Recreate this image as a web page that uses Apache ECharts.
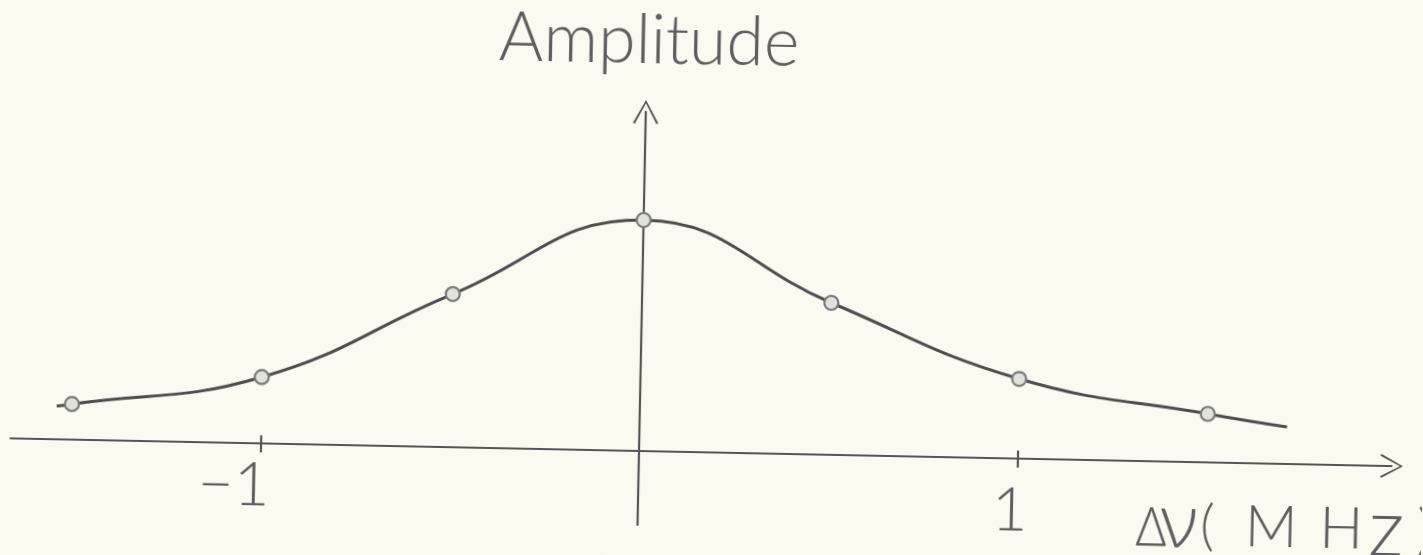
<!DOCTYPE html>
<html>
<head>
<meta charset="utf-8">
<script src="https://cdn.jsdelivr.net/npm/echarts@6/dist/echarts.min.js"></script>
<style>
  html, body { margin: 0; padding: 0; background: #fbfaf1; overflow: hidden; }
  #chart {
    position: absolute; left: 0; top: 0;
    width: 1423px; height: 555px;
    /* the hand-drawn sheet sits slightly askew */
    transform: rotate(1.15deg);
    transform-origin: 639px 451px;
  }
</style>
</head>
<body>
<div id="chart"></div>
<script>
// Frequency offset of each measurement (MHz)
const freq = [-1.5, -1, -0.5, 0, 0.5, 1, 1.5];
// Measured amplitude (arbitrary units, peak = 1)
const amp = [0.154, 0.287, 0.663, 1.0, 0.658, 0.345, 0.210];
// Where the hand-drawn curve starts and ends beyond the outer measurements
const curveStart = [-1.54, 0.144];
const curveEnd = [1.71, 0.160];
// Labelled ticks on the frequency axis
const xTickValues = [-1, 1];
const xTickLabels = ['−1', '1'];

const points = freq.map((f, i) => [f, amp[i]]);
const curve = [curveStart, ...points, curveEnd];

const ink = '#555555';
const textInk = '#5e5e5e';
const font = 'Lato, Roboto, "DejaVu Sans", sans-serif';
const greekFont = '"Open Sans", "Noto Sans", "DejaVu Sans", sans-serif';
// open chevron arrow head, pointing up
const chevron = 'path://M0,0 L-10,18 L-8.6,19 L0,2.6 L8.6,19 L10,18 Z';

// hand-lettered axis unit: each glyph centred in a narrow slot, spacers between
const glyph = (size, family, extra) => Object.assign({
  fontFamily: family || font, fontWeight: 300, fontSize: size,
  color: textInk, lineHeight: 64, width: 20, align: 'center'
}, extra || {});
const spacer = w => ({ fontFamily: font, fontSize: 20, lineHeight: 64, width: w });

const chart = echarts.init(document.getElementById('chart'), null, { renderer: 'canvas' });

chart.setOption({
  backgroundColor: '#fbfaf1',
  animation: false,
  title: {
    text: 'Amplitude',
    left: 636,
    top: 2,
    textAlign: 'center',
    textStyle: { fontFamily: font, fontWeight: 300, fontSize: 68, color: textInk }
  },
  grid: {
    left: 10.5, right: 31.3, top: 111.9, bottom: 30.1,
    containLabel: false,
    outerBoundsMode: 'none'
  },
  xAxis: {
    type: 'value',
    min: -1.66, max: 1.988,
    splitLine: { show: false },
    axisLine: {
      onZero: true,
      symbol: ['none', chevron],
      symbolSize: [24, 24],
      lineStyle: { color: ink, width: 2.2 }
    },
    axisTick: {
      show: true, inside: false, length: 9,
      customValues: xTickValues,
      lineStyle: { color: ink, width: 2.2 }
    },
    axisLabel: {
      show: true,
      customValues: xTickValues,
      margin: -63,
      formatter: v => v < 0
        ? '{tN|' + xTickLabels[xTickValues.indexOf(v)] + '}{gapN|\u00a0}'
        : '{tP|' + xTickLabels[xTickValues.indexOf(v)] + '}{gapP|\u00a0}',
      rich: {
        tN: { fontFamily: font, fontWeight: 300, fontSize: 62, color: textInk },
        tP: { fontFamily: font, fontWeight: 300, fontSize: 62, color: textInk, padding: [10, 0, 0, 0] },
        gapN: { fontFamily: font, fontSize: 62, width: 52 },
        gapP: { fontFamily: font, fontSize: 62, width: 14 }
      }
    },
    name: '{d|Δ}{s8|\u00a0}{n|ν}{s8|\u00a0}{p|(}{s44|\u00a0}{m|M}{s50|\u00a0}{h|H}{s25|\u00a0}{z|z}{s18|\u00a0}{c|)}',
    nameLocation: 'end',
    nameGap: 44,
    nameTextStyle: {
      align: 'right',
      verticalAlign: 'top',
      padding: [32, 0, 0, 0],
      rich: {
        d: glyph(54, greekFont, { lineHeight: 52, verticalAlign: 'bottom' }),
        n: glyph(72, greekFont),
        p: glyph(56),
        m: glyph(58),
        h: glyph(58),
        z: glyph(80),
        c: glyph(56),
        s8: spacer(8),
        s18: spacer(18),
        s25: spacer(25),
        s44: spacer(44),
        s50: spacer(50)
      }
    }
  },
  yAxis: {
    type: 'value',
    min: -0.32, max: 1.468,
    splitLine: { show: false },
    axisTick: { show: false },
    axisLabel: { show: false },
    axisLine: {
      onZero: true,
      symbol: ['none', chevron],
      symbolSize: [26, 24],
      lineStyle: { color: ink, width: 2.2 }
    }
  },
  series: [
    {
      name: 'curve',
      type: 'line',
      data: curve,
      smooth: 0.45,
      showSymbol: false,
      lineStyle: { color: '#4d4d4d', width: 3 },
      z: 2
    },
    {
      name: 'measured',
      type: 'scatter',
      data: points,
      symbol: 'circle',
      symbolSize: 14,
      itemStyle: { color: '#e2e2dd', borderColor: '#7a7a7a', borderWidth: 2.2, opacity: 1 },
      z: 3,
      // upper halves of the tick marks that cross the frequency axis
      markLine: {
        silent: true,
        symbol: ['none', 'none'],
        label: { show: false },
        lineStyle: { color: ink, width: 2.2, type: 'solid' },
        data: xTickValues.map(v => [{ coord: [v, 0] }, { coord: [v, 0.035] }])
      }
    }
  ]
});
</script>
</body>
</html>
